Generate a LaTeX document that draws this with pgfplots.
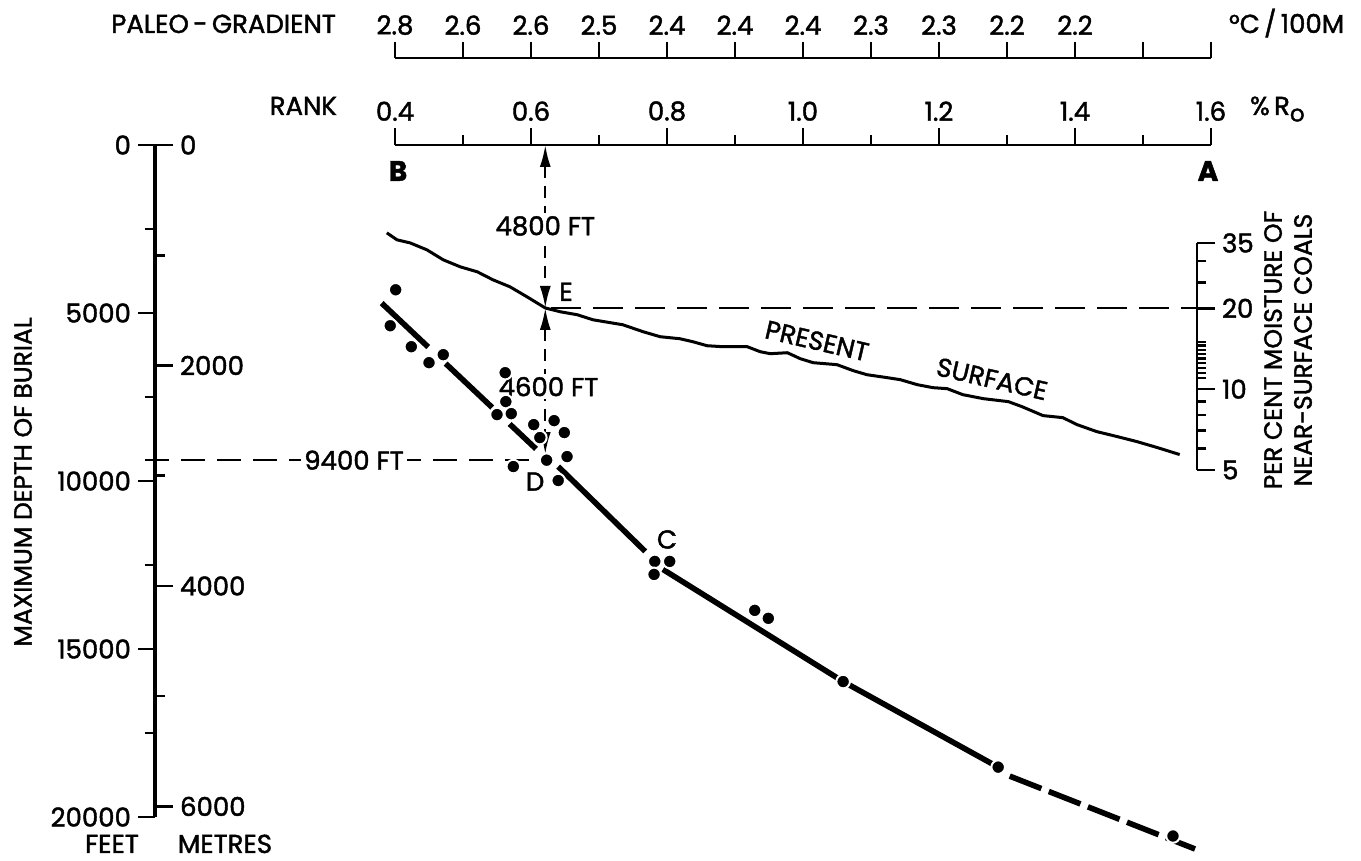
\documentclass[border=0pt]{standalone}
\usepackage{fontspec}
\setmainfont{Poppins}[FakeBold=1.6]
\usepackage{pgfplots}
\pgfplotsset{compat=1.18}
\usetikzlibrary{arrows.meta}
\begin{document}
\begin{tikzpicture}[x=0.5pt,y=0.5pt,font=\fontsize{13}{15.5}\selectfont]
\useasboundingbox (0,0) rectangle (1361,861);
\pgfplotsset{
  every axis/.append style={scale only axis,
    axis line style={line width=1.4pt},
    tick style={line width=1.3pt,black},
    tick align=outside,
    scaled x ticks=false, scaled y ticks=false,
    /pgf/number format/assume math mode=true,
    /pgf/number format/1000 sep={},
    tick label style={font=\fontsize{13}{15.5}\selectfont}},
}
% ---------- paleo-gradient scale ----------
\begin{axis}[at={(197.5pt,401.5pt)}, anchor=north west, width=408pt, height=0.5pt,
  xmin=0.4, xmax=1.6, ymin=0, ymax=1,
  axis x line*=top, axis y line=none,
  xtick={0.4,0.5,0.6,0.7,0.8,0.9,1.0,1.1,1.2,1.3,1.4,1.5,1.6},
  xticklabels={2.8,2.6,2.6,2.5,2.4,2.4,2.4,2.3,2.3,2.2,2.2,,},
  major tick length=8pt]
\end{axis}
% ---------- rank scale ----------
\begin{axis}[at={(197.5pt,358pt)}, anchor=north west, width=408pt, height=0.5pt,
  xmin=0.4, xmax=1.6, ymin=0, ymax=1,
  axis x line*=top, axis y line=none,
  xtick={0.4,0.6,0.8,1.0,1.2,1.4,1.6},
  xticklabels={0.4,0.6,0.8,1.0,1.2,1.4,1.6},
  minor xtick={0.5,0.7,0.9,1.1,1.3,1.5},
  major tick length=8.5pt, minor tick length=5pt]
\end{axis}
% ---------- feet scale ----------
\begin{axis}[at={(77.5pt,22pt)}, anchor=south west, width=0.5pt, height=336pt,
  xmin=0, xmax=1, ymin=0, ymax=20000, y dir=reverse,
  axis y line*=left, axis x line=none,
  axis line style={line width=1.6pt},
  ytick={0,5000,10000,15000,20000},
  yticklabels={0,5000,10000,15000,20000},
  minor ytick={2500,7500,12500,17500},
  major tick length=8.5pt, minor tick length=5pt]
\end{axis}
% ---------- metres scale ----------
\begin{axis}[at={(77.5pt,22pt)}, anchor=south east, width=0.5pt, height=336pt,
  xmin=0, xmax=1, ymin=0, ymax=6096, y dir=reverse,
  axis y line*=right, axis x line=none,
  axis line style={line width=1.6pt},
  ytick={0,2000,4000,6000},
  yticklabels={0,2000,4000,6000},
  minor ytick={1000,3000,5000},
  major tick length=9pt, minor tick length=5pt]
\end{axis}
% ---------- moisture scale (log10 of per cent) ----------
\begin{axis}[at={(598.5pt,195.5pt)}, anchor=south east, width=0.5pt, height=113.5pt,
  xmin=0, xmax=1, ymin=0.69897, ymax=1.54407,
  axis y line*=right, axis x line=none,
  ytick={0.69897,1,1.30103,1.54407}, yticklabels={5,10,20,35},
  minor ytick={0.77815,0.84510,0.90309,0.95424,1.04139,1.06070,1.07918,1.09691,1.11394,1.13033,1.14613,1.16137,1.17609,1.39794,1.47712},
  major tick length=9pt, minor tick length=4.5pt]
\end{axis}
% ---------- main data axis ----------
\begin{axis}[at={(197.5pt,22pt)}, anchor=south west, width=408pt, height=336pt,
  xmin=0.4, xmax=1.6, ymin=0, ymax=20000, y dir=reverse,
  axis lines=none, clip=false]
% present surface
\addplot[line width=1.5pt, line join=round] coordinates {
(0.388,2615) (0.403,2823) (0.422,2912) (0.447,3121) (0.471,3418) (0.496,3626)
(0.521,3774) (0.544,4012) (0.569,4220) (0.594,4517) (0.621,4850) (0.643,4963)
(0.668,5052) (0.691,5201) (0.735,5350) (0.765,5558) (0.790,5706) (0.819,5766)
(0.838,5855) (0.859,5974) (0.882,6003) (0.918,6003) (0.937,6152) (0.952,6211)
(0.977,6182) (0.996,6360) (1.015,6479) (1.050,6538) (1.074,6717) (1.094,6836)
(1.124,6925) (1.143,6984) (1.168,7133) (1.191,7222) (1.212,7252) (1.235,7430)
(1.265,7549) (1.302,7638) (1.322,7787) (1.353,8054) (1.382,8114) (1.403,8322)
(1.432,8530) (1.462,8678) (1.491,8827) (1.521,9005) (1.554,9213)};
% trend lines
\addplot[line width=2.8pt, dash pattern=on 32pt off 12pt] coordinates {(0.3804,4706) (0.6074,9045)};
\addplot[line width=2.8pt] coordinates {(0.640,9570) (0.768,12096)};
\addplot[line width=2.8pt, line join=round] coordinates {(0.794,12631) (1.059,15969) (1.287,18516)};
\addplot[line width=2.8pt, dash pattern=on 17pt off 4pt] coordinates {(1.304,18783) (1.5765,20952)};
% reference lines
\addplot[line width=1.1pt, dash pattern=on 12pt off 6pt] coordinates {(0.0324,9380) (0.622,9380)};
\addplot[line width=1.1pt, dash pattern=on 15pt off 6pt] coordinates {(0.630,4850) (1.5794,4850)};
\addplot[line width=1.1pt, dash pattern=on 6pt off 4pt,
  {Latex[length=11pt,width=5.5pt]}-{Latex[length=11pt,width=5.5pt]}] coordinates {(0.621,0) (0.621,4850)};
\addplot[line width=1.1pt, dash pattern=on 6pt off 4pt,
  {Latex[length=11pt,width=5.5pt]}-{Latex[length=11pt,width=5.5pt]}] coordinates {(0.621,4850) (0.621,9200)};
% labels
\node[fill=white, inner sep=1.5pt] at (axis cs:0.621,2410) {4800 FT};
\node[fill=white, inner sep=1.5pt] at (axis cs:0.6257,7192) {4600 FT};
\node[fill=white, inner sep=1.5pt] at (axis cs:0.3397,9380) {9400 FT};
\node at (axis cs:0.6515,4369) {E};
\node at (axis cs:0.606,10016) {D};
\node at (axis cs:0.800,11740) {C};
\node[rotate=-13, inner sep=1pt] at (axis cs:1.0206,5830) {PRESENT};
\node[rotate=-13, inner sep=1pt] at (axis cs:1.278,6960) {SURFACE};
% coal samples
\addplot[only marks, mark=*, mark size=3.4pt,
  mark options={fill=black, draw=white, line width=1pt}] coordinates {
(0.401,4309) (0.393,5379) (0.424,6003) (0.450,6478) (0.471,6240)
(0.562,6776) (0.563,7638) (0.550,8024) (0.571,7995) (0.604,8322)
(0.634,8203) (0.649,8559) (0.613,8708) (0.623,9380) (0.653,9273)
(0.574,9570) (0.640,9986)
(0.782,12393) (0.804,12393) (0.781,12780)
(0.929,13850) (0.949,14087)
(1.059,15969) (1.287,18516) (1.5441,20566)};
\end{axis}
% ---------- titles ----------
\node[anchor=base east] at (343,828) {PALEO\thinspace-\thinspace GRADIENT};
\node[anchor=base west] at (1222,828) {°C\,/\,100M};
\node[anchor=base east] at (344,746) {RANK};
\node[anchor=base west] at (1243,746) {\%\,R\raisebox{-0.45ex}{\fontsize{11.5}{12}\selectfont o}};
\node[font=\fontsize{14}{16}\selectfont\bfseries] at (398,690) {B};
\node[font=\fontsize{14}{16}\selectfont\bfseries] at (1208,690) {A};
\node[anchor=base, inner sep=0pt] at (112,8) {FEET};
\node[anchor=base, inner sep=0pt] at (225,8) {METRES};
\node[rotate=90, font=\fontsize{12.5}{15}\selectfont] at (23,379) {MAXIMUM DEPTH OF BURIAL};
\node[rotate=90, align=center, font=\fontsize{12.5}{15}\selectfont] at (1288,511) {PER CENT MOISTURE OF\\NEAR-SURFACE COALS};
\end{tikzpicture}
\end{document}
